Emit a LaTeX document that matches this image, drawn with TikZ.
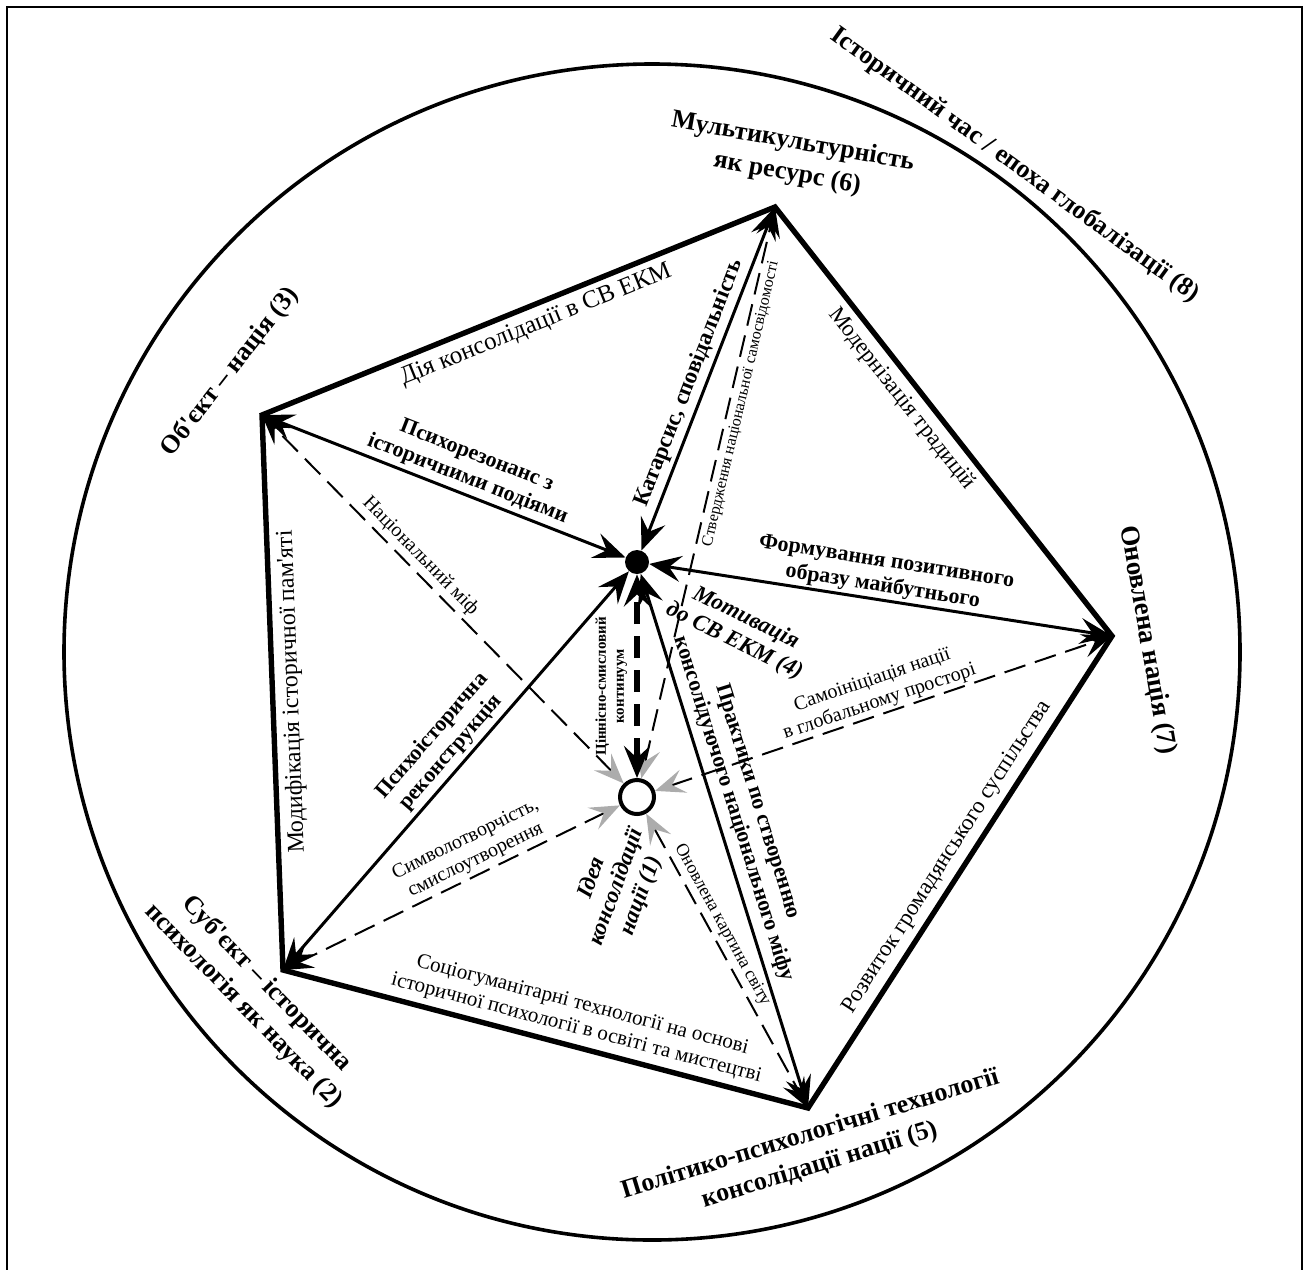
\documentclass[tikz,border=0pt]{standalone}
\usepackage{fontspec}
\setmainfont{Liberation Serif}[Ligatures=TeXOff]
\usetikzlibrary{arrows.meta}

\begin{document}
\begin{tikzpicture}[
  x=0.5pt, y=-0.5pt,
  >={Stealth[length=16pt, width=13pt, inset=6pt]},
  rim/.style={line width=2.7pt, line join=miter},
  arr/.style={<->, line width=1.5pt},
  bigdash/.style={<->, line width=3.2pt, dash pattern=on 11pt off 6pt},
  thindash/.style={{Stealth[length=15pt, width=12pt, inset=6pt, color=gray!65]}-{Stealth[length=15pt, width=12pt, inset=6pt]}, line width=1pt, dash pattern=on 11pt off 5pt},
  dot/.style={circle, fill, inner sep=0pt, minimum size=12pt},
  ring/.style={circle, draw, line width=2pt, inner sep=0pt, minimum size=17pt},
  vlab/.style={font=\fontsize{13}{16}\selectfont\bfseries, align=center, inner sep=1pt},
  slab/.style={font=\fontsize{11.5}{13}\selectfont, align=center, inner sep=3pt},
  alab/.style={font=\fontsize{11}{12.5}\selectfont\bfseries, align=center, inner sep=2pt},
  dlab/.style={font=\fontsize{10}{11.5}\selectfont, align=center, inner sep=2pt},
  ilab/.style={font=\fontsize{11.5}{13}\selectfont\bfseries\itshape, align=center, inner sep=1pt}
]
\useasboundingbox (0,0) rectangle (1304,1269);
\draw[line width=1.1pt] (7,7) rectangle (1302,1290);
\draw[line width=1.8pt] (652,652) circle[radius=294pt];

\coordinate (obj) at (262,415);
\coordinate (res) at (775,207);
\coordinate (renew) at (1112,636);
\coordinate (tech) at (808,1108);
\coordinate (subj) at (283,970);
\node[dot] (motiv) at (637,562) {};
\node[ring] (idea) at (637,797) {};

\draw[thindash] (idea) -- node[dlab, sloped, above, pos=.59] {Національний міф} (obj);
\draw[thindash] (idea) -- node[dlab, sloped, below, pos=.66, font=\fontsize{8}{9}\selectfont] {Ствердження національної самосвідомості} (res);
\draw[thindash] (idea) -- node[dlab, sloped, above, pos=.5, inner sep=1pt] {Самоініціація нації\\в глобальному просторі} (renew);
\draw[thindash] (idea) -- node[dlab, sloped, above, pos=.41] {Символотворчість,\\смислоутворення} (subj);
\draw[thindash] (idea) -- node[dlab, sloped, above, pos=.4, font=\fontsize{9}{10}\selectfont] {Оновлена картина світу} (tech);

\draw[arr] (motiv) -- node[alab, sloped, above, pos=.45] {Психорезонанс з\\історичними подіями} (obj);
\draw[arr] (motiv) -- node[alab, sloped, above, pos=.47, font=\fontsize{11.5}{14}\selectfont\bfseries] {Катарсис, сповідальність} (res);
\draw[arr] (motiv) -- node[alab, sloped, above, pos=.5, inner sep=1pt] {Формування позитивного\\образу майбутнього} (renew);
\draw[arr] (motiv) -- node[alab, sloped, above, pos=.48] {Психоісторична\\реконструкція} (subj);
\draw[arr] (motiv) -- node[alab, sloped, above, pos=.45, inner sep=3.5pt] {Практики по створенню\\консолідуючого національного міфу} (tech);
\draw[bigdash] (idea) -- node[sloped, allow upside down, above, pos=.45, font=\fontsize{7.5}{9}\selectfont\bfseries, align=center] {Ціннісно-смисловий\\континуум} (motiv);

\draw[rim] (obj)
  -- node[slab, sloped, below, pos=.52, font=\fontsize{12.5}{14}\selectfont] {Дія консолідації в СВ ЕКМ} (res)
  -- node[slab, sloped, below, pos=.42] {Модернізація традицій} (renew)
  -- node[slab, sloped, above, pos=.49] {Розвиток громадянського суспільства} (tech)
  -- node[slab, sloped, above, pos=.45, font=\fontsize{10.5}{12}\selectfont] {Соціогуманітарні технології на основі\\історичної психології в освіті та мистецтві} (subj)
  -- node[slab, sloped, allow upside down, below, pos=.5, font=\fontsize{12}{14}\selectfont] {Модифікація історичної пам'яті} cycle;

\node[vlab, rotate=-10] (resl) at (790,158) {Мультикультурність\\як ресурс (6)};
\node[vlab, rotate=-36] (eral) at (1015,165) {Історичний час / епоха глобалізації (8)};
\node[vlab, rotate=52] (objl) at (230,372) {Об'єкт – нація (3)};
\node[vlab, rotate=-46] (subjl) at (255,995) {Суб'єкт – історична\\психологія як наука (2)};
\node[vlab, rotate=17] (techl) at (815,1150) {Політико-психологічні технології\\консолідації нації (5)};
\node[vlab, rotate=-80, font=\fontsize{13.5}{16}\selectfont\bfseries] (renewl) at (1147,640) {Оновлена нація (7)};
\node[ilab, rotate=-26] (motivl) at (740,630) {Мотивація\\до СВ ЕКМ (4)};
\node[ilab, rotate=70] (ideal) at (617,887) {Ідея\\консолідації\\нації (1)};
\end{tikzpicture}
\end{document}
